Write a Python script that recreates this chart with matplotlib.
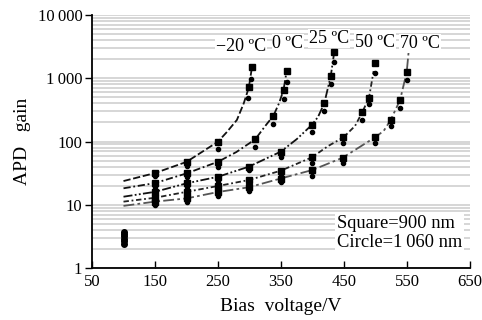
import matplotlib
matplotlib.use("Agg")
import matplotlib.pyplot as plt
from matplotlib.ticker import FixedLocator, NullFormatter, LogLocator

plt.rcParams['font.family'] = ['Liberation Serif', 'DejaVu Serif']

# ---------------- data ----------------
temps = ["\u221220 \u00baC", "0 \u00baC", "25 \u00baC", "50 \u00baC", "70 \u00baC"]

# square markers (900 nm)
sq_v = [
    [150, 200, 250, 299, 304],
    [150, 200, 250, 309, 338, 354, 359],
    [150, 200, 250, 299, 349.5, 398.7, 418.7, 429, 434.6],
    [150, 200, 250, 299, 349.5, 398.7, 449, 479, 489.7, 499],
    [150, 200, 250, 299, 349.5, 399.7, 448, 499, 524, 539, 549.5],
]
sq_g = [
    [31.7, 47.6, 99.4, 718, 1515],
    [22, 31.3, 47.8, 108, 256, 652, 1302],
    [16, 21.8, 27.7, 40, 69, 182, 402, 1086, 2630],
    [12.9, 16, 19.8, 24.6, 34.5, 56, 116, 290, 493, 1722],
    [11.2, 12.6, 15.9, 18.9, 26, 35.4, 55.5, 116, 218, 453, 1241],
]

# circle markers (1 060 nm)
ci_v = [
    [150, 200, 250, 298, 303],
    [150, 200, 250, 309, 338, 354, 359],
    [150, 200, 250, 299, 349.5, 398.7, 418.7, 429, 434.6],
    [150, 200, 250, 299, 349.5, 398.7, 449, 479, 489.7, 499],
    [150, 200, 250, 299, 349.5, 399.7, 448, 499, 524, 539, 549.5],
]
ci_g = [
    [28, 41, 77, 480, 975],
    [19, 27, 40, 83, 189, 465, 870],
    [14, 19, 24, 35, 56, 141, 303, 798, 1790],
    [11.5, 14, 17.5, 22, 28, 46, 96, 219, 392, 1225],
    [10, 11, 14, 16.5, 23, 28, 45, 94, 178, 335, 935],
]

# dashed fit curves
fit_v = [
    [100, 150, 200, 250, 264, 280, 291, 299, 304],
    [100, 150, 200, 250, 279, 309, 325, 338, 347, 354, 359],
    [100, 150, 200, 250, 299, 349.5, 375, 398.7, 408.7, 418.7, 429, 434.6],
    [100, 150, 200, 250, 299, 349.5, 398.7, 425, 449, 467.5, 479, 489.7, 497],
    [100, 150, 200, 250, 299, 349.5, 399.7, 448, 475, 499, 513, 524, 539, 549.5, 553.6],
]
fit_g = [
    [23.7, 31.7, 47.6, 99.4, 141, 219, 405, 718, 1515],
    [18.2, 22, 31.3, 47.8, 68, 108, 176, 256, 405, 652, 1302],
    [13.4, 16, 21.8, 27.7, 40, 69, 109, 182, 244, 402, 1086, 2630],
    [11.2, 12.9, 16, 19.8, 24.6, 34.5, 56, 85, 116, 176, 290, 493, 1300],
    [9.6, 11.2, 12.6, 15.9, 18.9, 26, 35.4, 55.5, 82, 116, 147, 218, 453, 1241, 3357],
]

# cluster of points at 100 V
low_v = [100, 100, 100, 100, 100, 100]
low_g = [2.4, 2.65, 2.9, 3.15, 3.45, 3.75]

label_px = [241, 288, 329, 375, 420]   # label centres in pixels
label_py = [46.7, 43.3, 38.3, 42.7, 43.3]

xticks = [50, 150, 250, 350, 450, 550, 650]
yticks = [1, 10, 100, 1000, 10000]
yticklabels = ["1", "10", "100", "1\u2009000", "10\u2009000"]

# ---------------- figure ----------------
W, H = 482, 320
fig = plt.figure(figsize=(W / 100, H / 100), dpi=100)
x0, x1, yb, yt = 92, 470, 268, 15
ax = fig.add_axes([x0 / W, 1 - yb / H, (x1 - x0) / W, (yb - yt) / H])
ax.set_xlim(50, 650)
ax.set_yscale('log')
ax.set_ylim(1, 10000)

ax.yaxis.set_major_locator(FixedLocator(yticks))
ax.yaxis.set_minor_locator(LogLocator(base=10, subs=range(2, 10)))
ax.yaxis.set_minor_formatter(NullFormatter())
ax.set_yticklabels(yticklabels)
ax.set_xticks(xticks)
ax.grid(True, which='both', axis='y', color='#cccccc', linewidth=1.1)
ax.set_axisbelow(True)
ax.tick_params(axis='y', which='minor', length=0)
ax.tick_params(axis='y', which='major', direction='out', length=5, width=1, labelsize=12, pad=2)
ax.tick_params(axis='x', direction='in', length=5, width=1, labelsize=12, pad=4)
for s in ['top', 'right']:
    ax.spines[s].set_visible(False)
for s in ['left', 'bottom']:
    ax.spines[s].set_linewidth(1.3)

dashes = [(4, 1.5), (4, 1.5, 1, 1.5), (5, 1.3, 1, 1.3, 1, 1.3), (3, 1.5, 1, 1.5), (6, 1.8, 1.5, 1.8)]
colors = ['#111111', '#111111', '#111111', '#222222', '#555555']
for i in range(5):
    ax.plot(fit_v[i], fit_g[i], color=colors[i], lw=1.3, dashes=dashes[i], zorder=3)
    ax.plot(sq_v[i], sq_g[i], 's', color='black', ms=4.4, zorder=4)
    ax.plot(ci_v[i], ci_g[i], 'o', color='black', ms=3.0, zorder=4)

ax.plot(low_v, low_g, 'o', color='black', ms=4.0, zorder=4)

# temperature labels (white boxes)
for t, px, py in zip(temps, label_px, label_py):
    v = 50 + (px - x0) * 600 / (x1 - x0)
    g = 10 ** ((yb - py) * 4 / (yb - yt))
    ax.text(v, g, t, fontsize=13, ha='center', va='center', zorder=5,
            bbox=dict(facecolor='white', edgecolor='none', pad=0.5))

ax.text((337 - x0) / (x1 - x0), (yb - 233) / (yb - yt),
        "Square=900 nm\nCircle=1\u2009060 nm", transform=ax.transAxes,
        fontsize=13.3, ha='left', va='center', linespacing=1.2, zorder=5,
        bbox=dict(facecolor='white', edgecolor='none', pad=1.5))

ax.set_xlabel("Bias  voltage/V", fontsize=14, labelpad=6)
ax.set_ylabel("APD   gain", fontsize=14, labelpad=5)

fig.savefig("out.png", dpi=100)
